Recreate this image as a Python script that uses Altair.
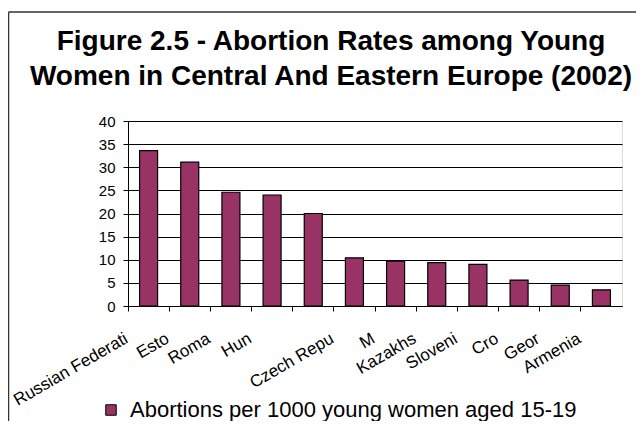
import altair as alt
import pandas as pd

countries = ["Russian Federati", "Esto", "Roma", "Hun", " ", "Czech Repu", "M",
             "Kazakhs", "Sloveni", "Cro", "Geor", "Armenia"]
rates = [33.6, 31.1, 24.6, 24.0, 20.0, 10.4, 9.7, 9.4, 9.0, 5.6, 4.5, 3.5]
series_name = "Abortions per 1000 young women aged 15-19"
y_ticks = [0, 5, 10, 15, 20, 25, 30, 35, 40]
title_lines = ["Figure 2.5 - Abortion Rates among Young",
               "Women in Central And Eastern Europe (2002)"]

df = pd.DataFrame({"country": countries, "rate": rates, "series": series_name})
FONT = "Liberation Sans"

bars = alt.Chart(df).mark_bar(size=18, stroke="black", strokeWidth=1.2).encode(
    x=alt.X("country:N", sort=None,
            scale=alt.Scale(paddingInner=0, paddingOuter=0),
            axis=alt.Axis(title=None, bandPosition=0, labelAngle=-30, labelAlign="right",
                          labelBaseline="middle", labelPadding=26, labelOffset=-22,
                          labelFontSize=17, labelFont=FONT, labelColor="black",
                          tickColor="black", tickSize=5, domainColor="black", grid=False,
                          labelOverlap=False)),
    y=alt.Y("rate:Q", scale=alt.Scale(domain=[0, 40], nice=False),
            axis=alt.Axis(title=None, values=y_ticks, grid=True, gridColor="black",
                          gridWidth=1, gridOpacity=1, tickColor="black", tickSize=5,
                          domainColor="black", labelFontSize=15, labelFont=FONT,
                          labelColor="black", labelPadding=8)),
    color=alt.Color("series:N", scale=alt.Scale(range=["#993366"]),
                    legend=alt.Legend(title=None, orient="none", legendX=-28, legendY=278,
                                      symbolType="square", symbolSize=110,
                                      symbolStrokeColor="black", symbolStrokeWidth=1,
                                      labelFontSize=22, labelFont=FONT, labelColor="black",
                                      labelLimit=600, labelOffset=8)),
)

frame_top = alt.Chart(pd.DataFrame({"a": [0]})).mark_rule(color="#333", strokeWidth=1.5).encode(
    x=alt.value(-119.5), x2=alt.value(520), y=alt.value(-109))
frame_left = alt.Chart(pd.DataFrame({"a": [0]})).mark_rule(color="#333", strokeWidth=1.5).encode(
    x=alt.value(-119.5), y=alt.value(-109), y2=alt.value(310))

chart = alt.layer(bars, frame_top, frame_left).properties(
    width=494, height=185,
    padding={"left": 120, "top": 113, "right": 14, "bottom": 115},
    autosize=alt.AutoSizeParams(type="none"),
    title=alt.TitleParams(text=title_lines, fontSize=28, fontWeight="bold", font=FONT,
                          color="black", anchor="middle", dx=-44, lineHeight=35, offset=-80),
).configure_view(fill="#FFFFCC", stroke="#999999").configure(background="white")

chart.save("out.html", embed_options={"renderer": "svg", "actions": False})
